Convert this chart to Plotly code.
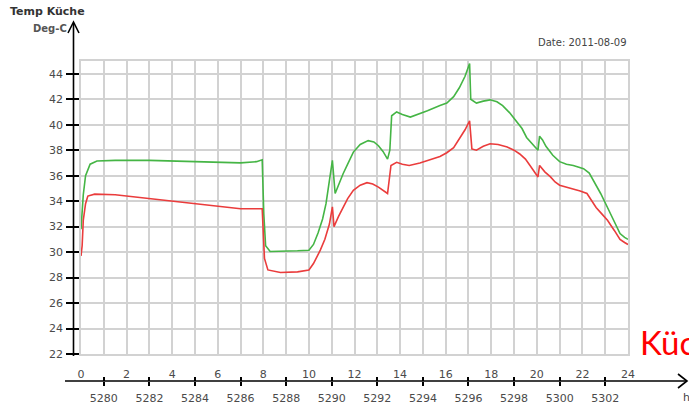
import plotly.graph_objects as go

# Kitchen temperature log, 2011-08-09
hours_green = [0.0, 0.1, 0.2, 0.4, 0.7, 1.5, 3.0, 5.0, 6.0, 7.0, 7.7, 7.95, 8.02, 8.1, 8.3,
               9.0, 9.5, 10.0, 10.2, 10.4, 10.6, 10.75, 10.9, 11.03, 11.15, 11.3, 11.5, 11.7,
               11.95, 12.25, 12.6, 12.85, 13.05, 13.25, 13.45, 13.55, 13.63, 13.85, 14.1, 14.45,
               14.85, 15.2, 15.75, 16.05, 16.35, 16.6, 16.85, 17.05, 17.1, 17.35, 17.65, 17.95,
               18.25, 18.5, 18.8, 19.1, 19.35, 19.55, 19.8, 20.05, 20.12, 20.25, 20.4, 20.7,
               21.0, 21.3, 21.6, 22.05, 22.3, 22.5, 22.8, 23.1, 23.4, 23.65, 23.85, 24.0]
temp_green = [31.8, 34.5, 36.0, 36.9, 37.15, 37.2, 37.2, 37.1, 37.0, 37.0, 37.1, 37.25, 33.0, 30.5, 30.05,
              30.05, 30.1, 30.15, 30.6, 31.5, 32.6, 33.8, 35.6, 37.2, 34.6, 35.3, 36.15, 36.9,
              37.85, 38.45, 38.75, 38.65, 38.35, 37.9, 37.3, 38.0, 40.7, 41.0, 40.8, 40.6,
              40.85, 41.1, 41.5, 41.7, 42.2, 42.9, 43.8, 44.8, 42.0, 41.7, 41.85, 41.95,
              41.8, 41.5, 40.95, 40.3, 39.7, 39.0, 38.5, 38.0, 39.1, 38.8, 38.3, 37.6,
              37.1, 36.9, 36.8, 36.55, 36.2, 35.6, 34.6, 33.5, 32.4, 31.45, 31.15, 31.0]

hours_red = [0.0, 0.05, 0.1, 0.2, 0.3, 0.6, 1.5, 3.0, 5.0, 6.5, 7.0, 7.95, 8.05, 8.2, 8.75,
             9.5, 10.0, 10.2, 10.5, 10.7, 10.9, 11.03, 11.1, 11.3, 11.5, 11.7, 11.95, 12.25,
             12.55, 12.8, 13.05, 13.25, 13.45, 13.6, 13.85, 14.1, 14.4, 14.87, 15.2, 15.75,
             16.05, 16.35, 16.6, 16.85, 17.05, 17.15, 17.35, 17.65, 17.95, 18.3, 18.7, 19.0,
             19.25, 19.5, 19.7, 19.9, 20.05, 20.12, 20.35, 20.6, 20.8, 21.0, 21.3, 21.6,
             21.9, 22.2, 22.4, 22.6, 22.85, 23.1, 23.4, 23.65, 23.85, 24.0]
temp_red = [29.7, 30.5, 32.5, 33.8, 34.4, 34.55, 34.5, 34.2, 33.8, 33.45, 33.4, 33.4, 29.5, 28.6, 28.4,
            28.45, 28.6, 29.1, 30.15, 31.0, 32.2, 33.55, 32.0, 32.8, 33.55, 34.2, 34.85, 35.25,
            35.45, 35.35, 35.1, 34.85, 34.6, 36.8, 37.05, 36.9, 36.8, 37.0, 37.2, 37.5,
            37.8, 38.2, 38.9, 39.6, 40.3, 38.1, 38.0, 38.3, 38.5, 38.45, 38.25, 38.0,
            37.7, 37.3, 36.8, 36.3, 35.9, 36.8, 36.3, 35.9, 35.5, 35.25, 35.1, 35.0,
            34.8, 34.6, 34.1, 33.5, 33.0, 32.5, 31.7, 31.0, 30.75, 30.6]

hour_ticks = list(range(0, 25, 2))
counter_ticks = list(range(5280, 5303, 2))
counter_start = 5279  # counter value at hour 0
temp_ticks = list(range(22, 45, 2))

W, H = 689, 405
ML, MR, MT, MB = 81, 61, 61, 24
PLOT_BOTTOM_PX = 354


def px(x):
    return (x - ML) / (W - ML - MR)


def py(y):
    return (H - MB - y) / (H - MT - MB)


fig = go.Figure()
fig.add_trace(go.Scatter(x=hours_green, y=temp_green, mode="lines",
                         line=dict(color="#45b545", width=1.6), showlegend=False))
fig.add_trace(go.Scatter(x=hours_red, y=temp_red, mode="lines",
                         line=dict(color="#ea3c3c", width=1.6), showlegend=False))

grid = "#d2d2d2"
base_font = "DejaVu Sans, Verdana, sans-serif"
tick_font = dict(family=base_font, size=11, color="#4a4a4a")

fig.update_layout(
    width=W, height=H,
    margin=dict(l=ML, r=MR, t=MT, b=MB, pad=0, autoexpand=False),
    paper_bgcolor="white", plot_bgcolor="white",
    xaxis=dict(range=[0, 24], tickvals=hour_ticks, ticktext=[str(v) for v in hour_ticks],
               ticks="", showgrid=True, gridcolor=grid, gridwidth=1.5,
               minor=dict(dtick=1, showgrid=True, gridcolor=grid, gridwidth=1.5),
               showline=True, linecolor=grid, linewidth=1.5, mirror=True,
               zeroline=False, tickfont=tick_font, ticklabelstandoff=9,
               anchor="y", automargin=False, fixedrange=True),
    yaxis=dict(range=[22, 45], tickvals=temp_ticks, ticktext=[str(v) for v in temp_ticks],
               domain=[py(PLOT_BOTTOM_PX), 1],
               ticks="outside", ticklen=13, tickcolor="black", tickwidth=1.5,
               showgrid=True, gridcolor=grid, gridwidth=1.5,
               showline=True, linecolor=grid, linewidth=1.5, mirror=True,
               zeroline=False, tickfont=tick_font, ticklabelstandoff=1,
               automargin=False, fixedrange=True),
    xaxis2=dict(range=[counter_start, counter_start + 24], overlaying="x", anchor="free",
                position=0, side="bottom", tickvals=counter_ticks,
                ticktext=[str(v) for v in counter_ticks],
                ticks="outside", ticklen=4, tickcolor="black", tickwidth=1.5,
                showgrid=False, showline=False, zeroline=False,
                tickfont=tick_font, ticklabelstandoff=3,
                automargin=False, fixedrange=True),
    xaxis3=dict(range=[counter_start, counter_start + 24], overlaying="x", anchor="free",
                position=0, side="bottom", tickvals=counter_ticks, showticklabels=False,
                ticks="inside", ticklen=4, tickcolor="black", tickwidth=1.5,
                showgrid=False, showline=False, zeroline=False,
                automargin=False, fixedrange=True),
)

# invisible traces so the counter axes are drawn
fig.add_trace(go.Scatter(x=[counter_start], y=[22], xaxis="x2", mode="markers",
                         marker=dict(opacity=0), showlegend=False, hoverinfo="skip"))
fig.add_trace(go.Scatter(x=[counter_start], y=[22], xaxis="x3", mode="markers",
                         marker=dict(opacity=0), showlegend=False, hoverinfo="skip"))

axis_line = dict(color="black", width=1.6)
shapes = [
    # vertical temperature axis with arrow
    dict(type="line", xref="paper", yref="paper", x0=px(73.5), x1=px(73.5), y0=py(23), y1=py(356),
         line=axis_line),
    dict(type="path", xref="paper", yref="paper",
         path=f"M {px(68)} {py(33)} L {px(73.5)} {py(22)} L {px(79)} {py(33)}", line=axis_line),
    # horizontal time axis with arrow
    dict(type="line", xref="paper", yref="paper", x0=px(65), x1=px(687), y0=py(381), y1=py(381),
         line=axis_line),
    dict(type="path", xref="paper", yref="paper",
         path=f"M {px(678)} {py(374)} L {px(687)} {py(381)} L {px(678)} {py(388)}", line=axis_line),
]
fig.update_layout(shapes=shapes)

annotations = [
    dict(text="<b>Temp Küche</b>", x=px(8), y=py(11), xanchor="left", yanchor="middle",
         font=dict(family=base_font, size=11, color="#333333")),
    dict(text="<b>Deg-C</b>", x=px(69), y=py(29), xanchor="right", yanchor="middle",
         font=dict(family=base_font, size=10, color="#555555")),
    dict(text="Date: 2011-08-09", x=px(629), y=py(42), xanchor="right", yanchor="middle",
         font=dict(family=base_font, size=10, color="#444444")),
    dict(text="h", x=px(681), y=py(397), xanchor="left", yanchor="middle",
         font=dict(family=base_font, size=11, color="#444444")),
    dict(text="Küche", x=px(638), y=py(342), xanchor="left", yanchor="middle",
         font=dict(family="Lato, Carlito, sans-serif", size=33, color="#ff0000")),
]
for a in annotations:
    a.update(xref="paper", yref="paper", showarrow=False)
fig.update_layout(annotations=annotations)

fig.write_html("out.html", config={"displayModeBar": False})
